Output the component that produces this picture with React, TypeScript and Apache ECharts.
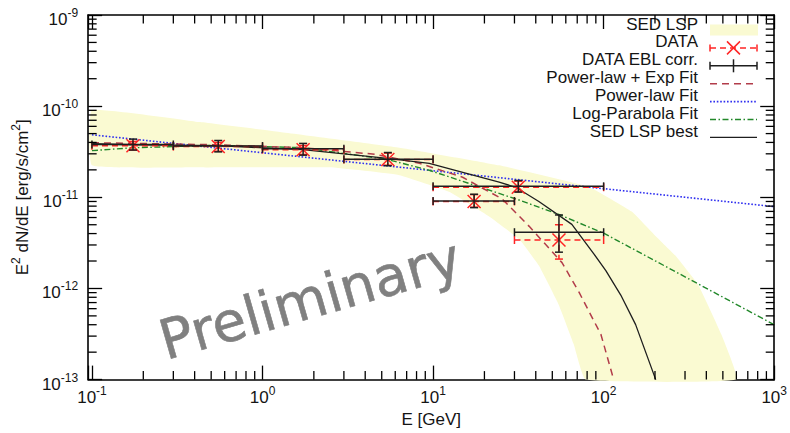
import React, { useEffect, useRef } from "react";
import * as echarts from "echarts";

// ---------- axis ranges & ticks ----------
const X_MIN = 0.095;
const X_MAX = 1000;
const Y_MIN = 1e-13;
const Y_MAX = 1e-9;
const Y_UNIT = 1e-13; // plotted in units of 1e-13 erg/s/cm^2 (tick labels show real powers)

const xMinorTicks = [
  0.2, 0.3, 0.4, 0.5, 0.6, 0.7, 0.8, 0.9,
  2, 3, 4, 5, 6, 7, 8, 9,
  20, 30, 40, 50, 60, 70, 80, 90,
  200, 300, 400, 500, 600, 700, 800, 900,
];
const yMinorTicks = [
  2e-13, 3e-13, 4e-13, 5e-13, 6e-13, 7e-13, 8e-13, 9e-13,
  2e-12, 3e-12, 4e-12, 5e-12, 6e-12, 7e-12, 8e-12, 9e-12,
  2e-11, 3e-11, 4e-11, 5e-11, 6e-11, 7e-11, 8e-11, 9e-11,
  2e-10, 3e-10, 4e-10, 5e-10, 6e-10, 7e-10, 8e-10, 9e-10,
];

// ---------- SED LSP band ----------
const bandUpperE = [0.1, 0.431, 1.265, 6.35, 24.4, 81.8, 146, 202, 264, 360, 490, 600];
const bandUpperF = [9.0e-11, 6.68e-11, 5.21e-11, 3.5e-11, 2.24e-11, 1.3e-11, 6.98e-12, 3.75e-12, 2.28e-12, 1.08e-12, 3.13e-13, 1e-13];
const bandLowerE = [0.1, 0.431, 2.475, 6.35, 12.4, 21.3, 31.9, 41.7, 54.6, 66.8, 78.5];
const bandLowerF = [2.24e-11, 2.13e-11, 2.13e-11, 1.75e-11, 1.15e-11, 6.16e-12, 3.48e-12, 1.78e-12, 6.6e-13, 2.44e-13, 1e-13];

// ---------- model curves ----------
const sedBestE = [0.1, 0.175, 0.542, 1.72, 5.41, 9.5, 16.3, 24.4, 30.7, 41.7, 65.1, 87.6, 103, 126, 154, 202];
const sedBestF = [3.87e-11, 3.77e-11, 3.68e-11, 3.33e-11, 2.67e-11, 2.35e-11, 1.8e-11, 1.47e-11, 1.28e-11, 9.0e-12, 5.05e-12, 2.4e-12, 1.57e-12, 8.46e-13, 4.01e-13, 1e-13];

const plExpE = [0.1, 0.542, 1.72, 4.54, 8.32, 14.9, 25.4, 36.6, 57.0, 71.7, 96.4, 114.5];
const plExpF = [3.97e-11, 3.77e-11, 3.5e-11, 2.97e-11, 2.36e-11, 1.66e-11, 9.6e-12, 4.8e-12, 1.92e-12, 9.1e-13, 3.13e-13, 1e-13];

const plE = [0.1, 1000];
const plF = [4.85e-11, 7.9e-12];

const logParE = [0.1, 0.175, 0.542, 1.72, 5.41, 9.5, 18.7, 31.6, 54.6, 100, 1000];
const logParF = [3.25e-11, 3.5e-11, 3.72e-11, 3.5e-11, 2.6e-11, 1.98e-11, 1.3e-11, 9.4e-12, 6.48e-12, 4.04e-12, 4.0e-13];

// ---------- data points ----------
const pointE = [0.174, 0.55, 1.73, 5.43, 17.4, 31.6, 54.7];
const binLo = [0.1, 0.3, 1, 3, 10, 10, 30];
const binHi = [0.3, 1, 3, 10, 30, 100, 100];

const dataF = [3.68e-11, 3.6e-11, 3.33e-11, 2.6e-11, 9.0e-12, 1.29e-11, 3.4e-12];
const dataFLo = [3.3e-11, 3.2e-11, 2.95e-11, 2.25e-11, 7.8e-12, 1.16e-11, 2.1e-12];
const dataFHi = [4.1e-11, 4.0e-11, 3.7e-11, 3.05e-11, 1.07e-11, 1.5e-11, 5.0e-12];

const eblF = [3.8e-11, 3.65e-11, 3.4e-11, 2.62e-11, 9.1e-12, 1.32e-11, 4.14e-12];
const eblFLo = [3.3e-11, 3.15e-11, 2.9e-11, 2.22e-11, 7.7e-12, 1.14e-11, 2.5e-12];
const eblFHi = [4.35e-11, 4.2e-11, 3.9e-11, 3.1e-11, 1.08e-11, 1.53e-11, 6.4e-12];

const legendNames = [
  "SED LSP",
  "DATA",
  "DATA EBL corr.",
  "Power-law + Exp Fit",
  "Power-law Fit",
  "Log-Parabola Fit",
  "SED LSP best",
];

// ---------- styles ----------
const FONT = '"Liberation Sans", Arial, Helvetica, sans-serif';
const TXT = "#141414";
const BAND = "#fafad2";
const RED = "#ff2424";
const BROWN = "#b23c4a";
const BLUE = "#2f2ff0";
const GREEN = "#22882a";
const BLACK = "#1e1e1e";

// both tokens have the same total height so their relative placement is fixed by padding
const labelRich: any = {
  b: { fontSize: 17, fontFamily: FONT, color: TXT, lineHeight: 17, padding: [9, 0, 0, 0] },
  s: { fontSize: 12, fontFamily: FONT, color: TXT, lineHeight: 12, padding: [5, 0, 9, 0] },
};

const powLabel = (v: number, shift: number) => {
  const l = Math.log10(v);
  const r = Math.round(l);
  if (Math.abs(l - r) > 1e-6) return "";
  return `{b|10}{s|${r + shift}}`;
};

const yShift = Math.round(Math.log10(Y_UNIT));
const ys = (f: number) => f / Y_UNIT;

function lineSeries(E: number[], F: number[], color: string, width: number, dash: any) {
  return {
    type: "line",
    xAxisIndex: 0,
    yAxisIndex: 0,
    data: E.map((e, i) => [e, ys(F[i])]),
    symbol: "none",
    smooth: false,
    clip: true,
    z: 4,
    lineStyle: { color, width, type: dash, cap: "butt" },
    silent: true,
  };
}

function errorSeries(
  F: number[], lo: number[], hi: number[], color: string, dashed: boolean, cross: boolean, z: number
) {
  return {
    type: "custom",
    coordinateSystem: "cartesian2d",
    xAxisIndex: 0,
    yAxisIndex: 0,
    z,
    silent: true,
    encode: { x: 0, y: 1 },
    data: pointE.map((e, i) => [e, ys(F[i]), ys(lo[i]), ys(hi[i]), binLo[i], binHi[i]]),
    renderItem: (params: any, api: any) => {
      const e = api.value(0);
      const f = api.value(1);
      const c = api.coord([e, f]);
      const l = api.coord([api.value(4), f]);
      const r = api.coord([api.value(5), f]);
      const t = api.coord([e, api.value(3)]);
      const b = api.coord([e, api.value(2)]);
      const w = 1.5;
      const main = { stroke: color, lineWidth: w, lineDash: dashed ? [6, 4] : null, fill: null };
      const solid = { stroke: color, lineWidth: w, fill: null };
      const cap = 4;
      const ln = (x1: number, y1: number, x2: number, y2: number, style: any) => ({
        type: "line",
        shape: { x1, y1, x2, y2 },
        style,
      });
      const children: any[] = [
        ln(l[0], l[1], r[0], r[1], main),
        ln(l[0], l[1] - cap, l[0], l[1] + cap, solid),
        ln(r[0], r[1] - cap, r[0], r[1] + cap, solid),
        ln(t[0], t[1], b[0], b[1], main),
        ln(t[0] - cap, t[1], t[0] + cap, t[1], solid),
        ln(b[0] - cap, b[1], b[0] + cap, b[1], solid),
      ];
      if (cross) {
        const s = 6.5;
        children.push(ln(c[0] - s, c[1] - s, c[0] + s, c[1] + s, solid));
        children.push(ln(c[0] - s, c[1] + s, c[0] + s, c[1] - s, solid));
      }
      return { type: "group", children };
    },
  };
}

function buildOption(): any {
  const tickStyle = { color: "#000", width: 1.3 };
  const axisLineStyle = { color: "#000", width: 1.6 };

  const xCommon = {
    type: "log",
    min: X_MIN,
    max: X_MAX,
    logBase: 10,
    gridIndex: 0,
    splitLine: { show: false },
    minorTick: { show: false },
    axisLine: { show: true, onZero: false, lineStyle: axisLineStyle },
    axisTick: { show: true, inside: true, length: 14, lineStyle: tickStyle },
  };
  const yCommon = {
    type: "log",
    min: ys(Y_MIN),
    max: ys(Y_MAX),
    logBase: 10,
    gridIndex: 0,
    splitLine: { show: false },
    minorTick: { show: false },
    axisLine: { show: true, onZero: false, lineStyle: axisLineStyle },
    axisTick: { show: true, inside: true, length: 14, lineStyle: tickStyle },
  };

  const minorStyle = { stroke: "#000", lineWidth: 1.3 };

  const xMinorSeries = {
    type: "custom",
    coordinateSystem: "cartesian2d",
    xAxisIndex: 0,
    yAxisIndex: 0,
    z: 6,
    silent: true,
    encode: { x: 0, y: 1 },
    data: xMinorTicks.map((v) => [v, ys(1e-11)]),
    renderItem: (params: any, api: any) => {
      const v = api.value(0);
      const b = api.coord([v, ys(Y_MIN)]);
      const t = api.coord([v, ys(Y_MAX)]);
      return {
        type: "group",
        children: [
          { type: "line", shape: { x1: b[0], y1: b[1], x2: b[0], y2: b[1] - 8.5 }, style: minorStyle },
          { type: "line", shape: { x1: t[0], y1: t[1], x2: t[0], y2: t[1] + 8.5 }, style: minorStyle },
        ],
      };
    },
  };
  const yMinorSeries = {
    type: "custom",
    coordinateSystem: "cartesian2d",
    xAxisIndex: 0,
    yAxisIndex: 0,
    z: 6,
    silent: true,
    encode: { x: 0, y: 1 },
    data: yMinorTicks.map((v) => [1, ys(v)]),
    renderItem: (params: any, api: any) => {
      const v = api.value(1);
      const l = api.coord([X_MIN, v]);
      const r = api.coord([X_MAX, v]);
      return {
        type: "group",
        children: [
          { type: "line", shape: { x1: l[0], y1: l[1], x2: l[0] + 8.5, y2: l[1] }, style: minorStyle },
          { type: "line", shape: { x1: r[0], y1: r[1], x2: r[0] - 8.5, y2: r[1] }, style: minorStyle },
        ],
      };
    },
  };

  const bandSeries = {
    type: "custom",
    coordinateSystem: "cartesian2d",
    xAxisIndex: 0,
    yAxisIndex: 0,
    z: 1,
    silent: true,
    encode: { x: 0, y: 1 },
    data: [[bandUpperE[0], ys(bandUpperF[0])]],
    renderItem: (params: any, api: any) => {
      const pts: number[][] = [];
      bandUpperE.forEach((e, i) => pts.push(api.coord([e, ys(bandUpperF[i])])));
      for (let i = bandLowerE.length - 1; i >= 0; i--) pts.push(api.coord([bandLowerE[i], ys(bandLowerF[i])]));
      return { type: "polygon", shape: { points: pts, smooth: 0.1 }, style: { fill: BAND, stroke: null } };
    },
  };

  // ---------- legend (graphic) ----------
  const lx1 = 710;
  const lx2 = 757;
  const lxm = (lx1 + lx2) / 2;
  const textX = 698;
  const textY = legendNames.map((_, i) => 24 + 17.9 * i);
  const sampY = textY.map((y) => y + 6);
  const legendChildren: any[] = [];
  legendNames.forEach((name, i) => {
    legendChildren.push({
      type: "text",
      x: textX,
      y: textY[i],
      style: { text: name, align: "right", verticalAlign: "middle", fontSize: 17, fontFamily: FONT, fill: TXT },
    });
  });
  const gl = (x1: number, y1: number, x2: number, y2: number, stroke: string, lineWidth: number, lineDash?: any) => ({
    type: "line",
    shape: { x1, y1, x2, y2 },
    style: { stroke, lineWidth, lineDash: lineDash || null },
  });
  legendChildren.push({
    type: "rect",
    shape: { x: lx1, y: sampY[0] - 5.5, width: lx2 - lx1 + 1, height: 11 },
    style: { fill: BAND },
  });
  legendChildren.push(gl(lx1, sampY[1], lx2, sampY[1], RED, 1.5, [6, 4]));
  legendChildren.push(gl(lx1, sampY[1] - 3.5, lx1, sampY[1] + 3.5, RED, 1.5));
  legendChildren.push(gl(lx2, sampY[1] - 3.5, lx2, sampY[1] + 3.5, RED, 1.5));
  legendChildren.push(gl(lxm - 6.5, sampY[1] - 6.5, lxm + 6.5, sampY[1] + 6.5, RED, 1.5));
  legendChildren.push(gl(lxm - 6.5, sampY[1] + 6.5, lxm + 6.5, sampY[1] - 6.5, RED, 1.5));
  legendChildren.push(gl(lx1, sampY[2], lx2, sampY[2], BLACK, 1.5));
  legendChildren.push(gl(lx1, sampY[2] - 4, lx1, sampY[2] + 4, BLACK, 1.5));
  legendChildren.push(gl(lx2, sampY[2] - 4, lx2, sampY[2] + 4, BLACK, 1.5));
  legendChildren.push(gl(lxm, sampY[2] - 6.5, lxm, sampY[2] + 6.5, BLACK, 1.5));
  legendChildren.push(gl(lx1, sampY[3], lx2, sampY[3], BROWN, 1.5, [7, 5]));
  legendChildren.push(gl(lx1, sampY[4], lx2, sampY[4], BLUE, 1.6, [1.6, 1.8]));
  legendChildren.push(gl(lx1, sampY[5], lx2, sampY[5], GREEN, 1.5, [6, 2.5, 1.5, 2.5]));
  legendChildren.push(gl(lx1, sampY[6], lx2, sampY[6], BLACK, 1.3));

  return {
    animation: false,
    backgroundColor: "#ffffff",
    grid: { left: 88, right: 14, top: 15, bottom: 47, containLabel: false },
    xAxis: [
      {
        ...xCommon,
        position: "bottom",
        axisLabel: {
          show: true,
          margin: 5,
          formatter: (v: number) => powLabel(v, 0),
          rich: labelRich,
        },
        name: "E [GeV]",
        nameLocation: "middle",
        nameGap: 26,
        nameTextStyle: { fontSize: 17, fontFamily: FONT, color: TXT },
      },
      { ...xCommon, position: "top", axisLabel: { show: false } },
    ],
    yAxis: [
      {
        ...yCommon,
        position: "left",
        axisLabel: {
          show: true,
          margin: 10,
          formatter: (v: number) => powLabel(v, yShift),
          rich: labelRich,
        },
        name: "{a|E}{s|2}{a| dN/dE [erg/s/cm}{s|2}{a|]}",
        nameLocation: "middle",
        nameRotate: 90,
        nameGap: 53,
        nameTextStyle: {
          rich: {
            a: { fontSize: 17, fontFamily: FONT, color: TXT, lineHeight: 17, padding: [6, 0, 0, 0] },
            s: { fontSize: 12, fontFamily: FONT, color: TXT, lineHeight: 12, padding: [2, 0, 9, 0] },
          },
        },
      },
      { ...yCommon, position: "right", axisLabel: { show: false } },
    ],
    series: [
      bandSeries,
      lineSeries(plE, plF, BLUE, 1.6, [1.6, 1.8]),
      lineSeries(logParE, logParF, GREEN, 1.4, [6, 2.5, 1.5, 2.5]),
      lineSeries(plExpE, plExpF, BROWN, 1.5, [7, 5]),
      lineSeries(sedBestE, sedBestF, BLACK, 1.3, "solid"),
      errorSeries(dataF, dataFLo, dataFHi, RED, true, true, 5),
      errorSeries(eblF, eblFLo, eblFHi, BLACK, false, false, 6),
      xMinorSeries,
      yMinorSeries,
    ],
    graphic: [
      { type: "group", z: 100, children: legendChildren },
      {
        type: "text",
        z: 101,
        x: 310,
        y: 299,
        rotation: (16 * Math.PI) / 180,
        style: {
          text: "Preliminary",
          align: "center",
          verticalAlign: "middle",
          fontSize: 55,
          fontFamily: '"DejaVu Sans", sans-serif',
          fill: "#808080",
          stroke: "#808080",
          lineWidth: 0.6,
        },
      },
    ],
  };
}

export default function App() {
  const ref = useRef<HTMLDivElement>(null);
  useEffect(() => {
    document.body.style.margin = "0";
    const chart = echarts.init(ref.current as HTMLDivElement, undefined, {
      renderer: "svg",
      width: 790,
      height: 433,
    });
    chart.setOption(buildOption());
    return () => {
      chart.dispose();
    };
  }, []);
  return (
    <div
      ref={ref}
      style={{ position: "fixed", left: 0, top: 0, width: 790, height: 433, background: "#fff" }}
    />
  );
}
